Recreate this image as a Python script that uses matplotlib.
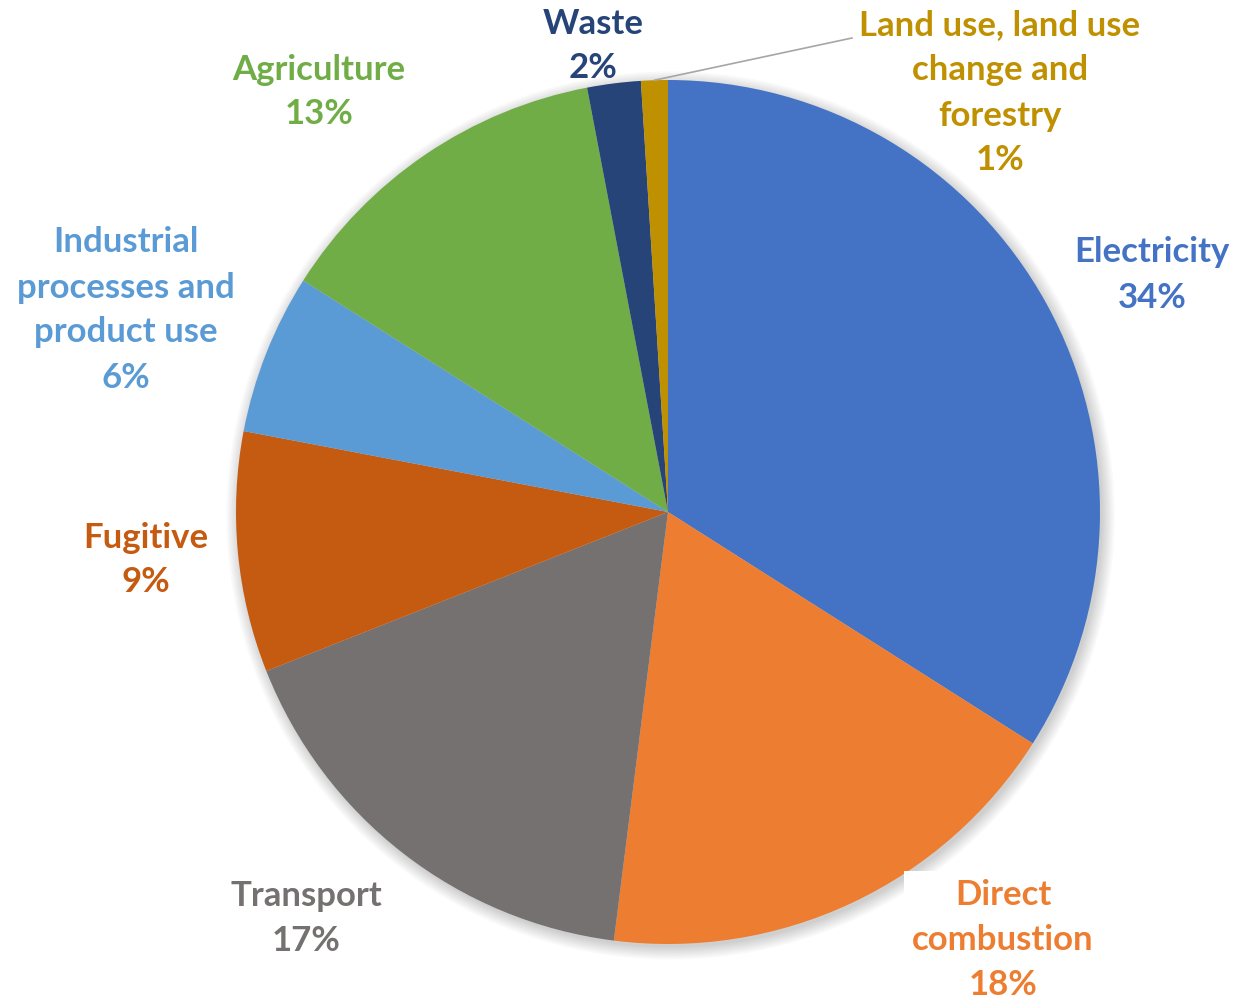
import matplotlib.pyplot as plt
import numpy as np

sectors = ["Electricity", "Direct\ncombustion", "Transport", "Fugitive",
           "Industrial\nprocesses and\nproduct use", "Agriculture", "Waste",
           "Land use, land use\nchange and\nforestry"]
shares = [34, 18, 17, 9, 6, 13, 2, 1]
colors = ["#4472C4", "#ED7D31", "#767171", "#C55A11",
          "#5B9BD5", "#70AD47", "#264478", "#BF9000"]

# label block centres in pixels on a 1235x1005 canvas
label_px = [(1152, 275), (1003, 940), (306, 918), (146, 560),
            (126, 310), (319, 92), (593, 46), (1000, 93)]

W, H = 1235, 1005
cx, cy, R = 668, 512, 432

fig = plt.figure(figsize=(W / 100, H / 100), dpi=100)
ax = fig.add_axes([0, 0, 1, 1])

# soft shadow around the pie
for k in range(8):
    ax.add_patch(plt.Circle((0.006, -0.008), 1.0 + k * 0.004, color="#000000",
                            alpha=0.025, lw=0, zorder=0))

wedges, _ = ax.pie(shares, colors=colors, startangle=90, counterclock=False,
                   radius=1.0, wedgeprops=dict(linewidth=0))

ax.set_xlim(-cx / R, (W - cx) / R)
ax.set_ylim(-(H - cy) / R, cy / R)
ax.set_aspect("equal")
ax.axis("off")

plt.rcParams["font.family"] = ["Lato", "DejaVu Sans"]
for name, val, col, (x, y) in zip(sectors, shares, colors, label_px):
    txt = f"{name}\n{val}%"
    kw = {}
    if name.startswith("Direct"):
        kw["bbox"] = dict(facecolor="white", edgecolor="none", pad=6)
    fig.text(x / W, 1 - y / H, txt, ha="center", va="center", color=col,
             fontsize=25, fontweight="bold", linespacing=1.5,
             transform=fig.transFigure, zorder=5, **kw)

# leader line for the smallest slice
w = wedges[-1]
mid = np.deg2rad((w.theta1 + w.theta2) / 2)
ax.plot([np.cos(mid), (852 - cx) / R], [np.sin(mid), (cy - 38) / R],
        color="#A6A6A6", lw=1.2)

fig.savefig("out.png", dpi=100)
